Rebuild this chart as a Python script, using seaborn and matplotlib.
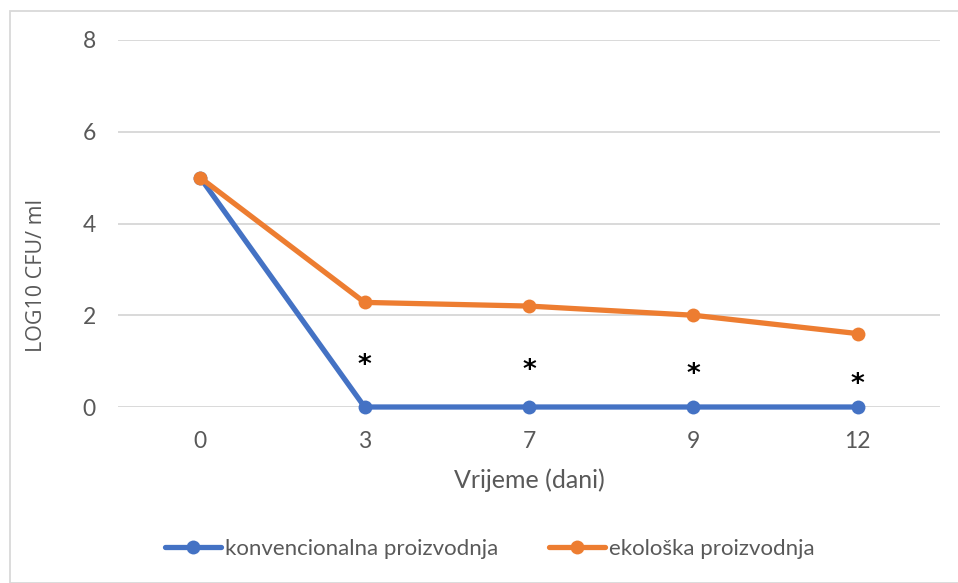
import matplotlib
matplotlib.use("Agg")
import matplotlib.pyplot as plt
import seaborn as sns
import pandas as pd
from matplotlib.patches import Rectangle

days = ["0", "3", "7", "9", "12"]
konvencionalna = [5.0, 0.0, 0.0, 0.0, 0.0]
ekoloska = [5.0, 2.28, 2.2, 2.0, 1.6]
series_names = ["konvencionalna proizvodnja", "ekološka proizvodnja"]
star_days = ["3", "7", "9", "12"]
star_y = [1.07, 0.96, 0.87, 0.65]
y_ticks = [0, 2, 4, 6, 8]

colors = ["#4472C4", "#ED7D31"]

df = pd.DataFrame({
    "dan": days * 2,
    "vrijednost": konvencionalna + ekoloska,
    "serija": [series_names[0]] * len(days) + [series_names[1]] * len(days),
})

sns.set_style("white")
plt.rcParams["font.family"] = ["Lato", "DejaVu Sans"]

fig = plt.figure(figsize=(9.58, 5.83), dpi=100)
ax = fig.add_axes([118 / 958, 1 - 407 / 583, (940 - 118) / 958, (407 - 40) / 583])

sns.lineplot(data=df, x="dan", y="vrijednost", hue="serija", palette=colors,
             marker="o", markersize=10, markeredgewidth=0, linewidth=3.8,
             sort=False, ax=ax, legend=True, clip_on=False, zorder=3)

ax.set_xlim(-0.5, len(days) - 0.5)
ax.set_ylim(0, 8)
ax.set_yticks(y_ticks)
ax.set_yticklabels([str(t) for t in y_ticks])
for s in ax.spines.values():
    s.set_visible(False)
ax.grid(axis="y", color="#D9D9D9", linewidth=1.4, zorder=0)
ax.grid(axis="x", visible=False)
ax.set_axisbelow(True)
ax.tick_params(axis="both", length=0, labelsize=16.5, colors="#595959")
ax.tick_params(axis="x", pad=17)
ax.tick_params(axis="y", pad=16)

ax.set_xlabel("Vrijeme (dani)", fontsize=18, color="#595959", labelpad=12)
ax.set_ylabel("")
fig.text(37 / 958, 1 - 275 / 583, "LOG10 CFU/ ml", rotation=90, ha="center", va="center",
         fontsize=15.5, color="#595959", family=["Open Sans", "DejaVu Sans"])

for d, yv in zip(star_days, star_y):
    ax.annotate("*", xy=(days.index(d), yv), xytext=(0, -11), textcoords="offset points",
                ha="center", va="baseline", fontsize=19, fontweight="bold", color="black",
                family=["DejaVu Sans"])

handles, labels = ax.get_legend_handles_labels()
ax.legend(handles, labels, loc="center", bbox_to_anchor=(490 / 958, 1 - 549 / 583),
          bbox_transform=fig.transFigure, ncol=2, frameon=False, fontsize=16,
          handlelength=2.5, handletextpad=0.2, columnspacing=2.3,
          labelcolor="#595959")

fig.patches.append(Rectangle((9.5 / 958, 0), 1.0, 1 - 11 / 583, transform=fig.transFigure,
                             fill=False, edgecolor="#D9D9D9", linewidth=1.3))

fig.savefig("out.png", dpi=100, facecolor="white")
